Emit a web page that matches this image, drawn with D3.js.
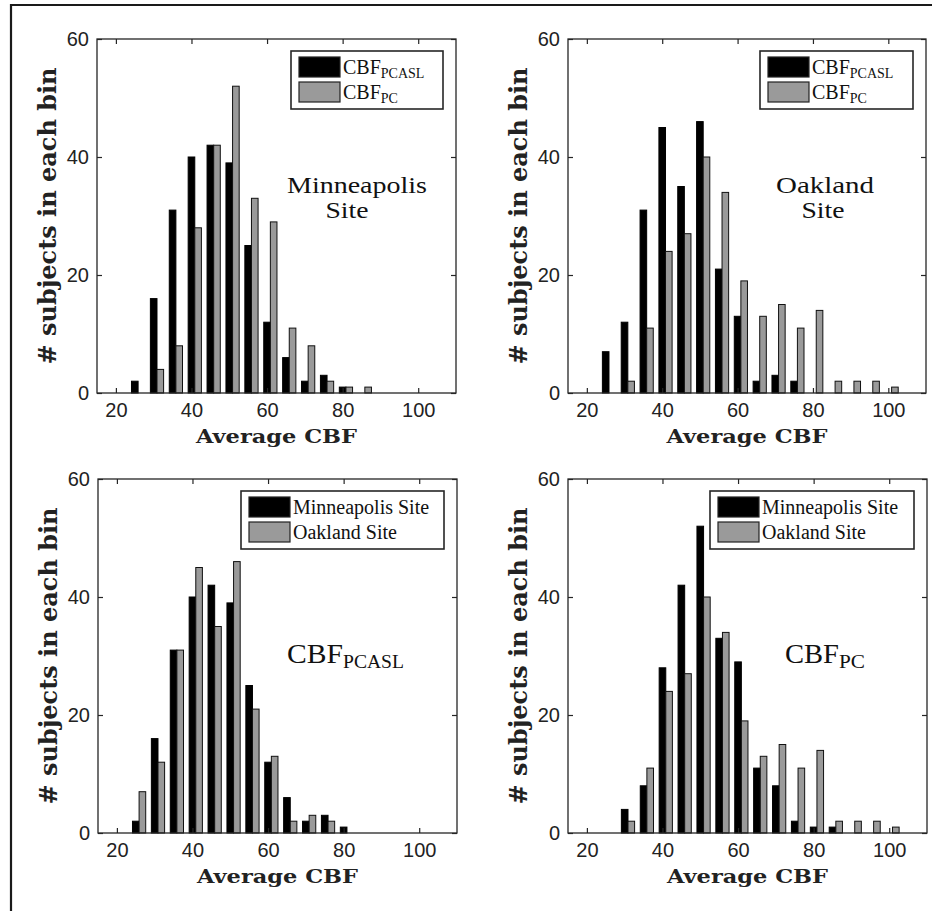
<!DOCTYPE html>
<html><head><meta charset="utf-8">
<script src="https://cdn.jsdelivr.net/npm/d3@7"></script>
<style>body{margin:0;background:#fff}svg{display:block}</style>
</head><body>
<script>
// ---- data ----
const bins = [25,30,35,40,45,50,55,60,65,70,75,80,85,90,95,100];
const mplsPCASL = [2,16,31,40,42,39,25,12,6,2,3,1,0,0,0,0];
const mplsPC    = [0,4,8,28,42,52,33,29,11,8,2,1,1,0,0,0];
const oakPCASL  = [7,12,31,45,35,46,21,13,2,3,2,0,0,0,0,0];
const oakPC     = [0,2,11,24,27,40,34,19,13,15,11,14,2,2,2,1];
const xTicks = [20,40,60,80,100];
const yTicks = [0,20,40,60];
const xLabel = "Average CBF";
const yLabel = "# subjects in each bin";
const legendMethods = [["CBF","PCASL"],["CBF","PC"]];
const legendSites = [["Minneapolis Site",""],["Oakland Site",""]];

const panels = [
  {x0:97, x1:456, y0:39, y1:393, black:mplsPCASL, gray:mplsPC, legend:legendMethods,
   legendLeft:291, notes:[{t:"Minneapolis",x:357,y:193,w:140},{t:"Site",x:347,y:218,w:43}]},
  {x0:568, x1:926, y0:39, y1:393, black:oakPCASL, gray:oakPC, legend:legendMethods,
   legendLeft:760, notes:[{t:"Oakland",x:825,y:193,w:98},{t:"Site",x:823,y:218,w:43}]},
  {x0:98, x1:457, y0:479, y1:833, black:mplsPCASL, gray:oakPCASL, legend:legendSites,
   legendLeft:241, sub:{main:"CBF",sub:"PCASL",x:287,y:663,wm:56,ws:61}},
  {x0:568, x1:927, y0:479, y1:833, black:mplsPC, gray:oakPC, legend:legendSites,
   legendLeft:710, sub:{main:"CBF",sub:"PC",x:785,y:663,wm:54,ws:26}}
];

const W=934,H=911;
const svg=d3.select("body").append("svg").attr("width",W).attr("height",H);
const SERIF="'Liberation Serif','Times New Roman',serif";
const BSERIF="'DejaVu Serif',serif";
const SANS="'Liberation Sans',Arial,Helvetica,sans-serif";

// outer frame
svg.append("path").attr("d","M11,911 L11,5 L932,5").attr("fill","none").attr("stroke","#1a1a1a").attr("stroke-width",2.2);

panels.forEach(p=>{
  const x=d3.scaleLinear().domain([15,110]).range([p.x0,p.x1]);
  const y=d3.scaleLinear().domain([0,60]).range([p.y1,p.y0]);
  const g=svg.append("g");
  const hw=0.875;
  // bars
  g.selectAll("rect.b").data(bins.map((b,i)=>({b,v:p.black[i]})).filter(d=>d.v>0)).join("rect")
    .attr("x",d=>x(d.b-hw)).attr("width",d=>x(d.b+hw)-x(d.b-hw))
    .attr("y",d=>y(d.v)).attr("height",d=>y(0)-y(d.v))
    .attr("fill","#000").attr("stroke","#000").attr("stroke-width",1);
  g.selectAll("rect.g").data(bins.map((b,i)=>({b,v:p.gray[i]})).filter(d=>d.v>0)).join("rect")
    .attr("x",d=>x(d.b+hw)).attr("width",d=>x(d.b+3*hw)-x(d.b+hw))
    .attr("y",d=>y(d.v)).attr("height",d=>y(0)-y(d.v))
    .attr("fill","#9a9a9a").attr("stroke","#111").attr("stroke-width",1);
  // axes with inward ticks
  const ax=d3.axisBottom(x).tickValues(xTicks).tickSize(-5).tickPadding(10);
  const gx=g.append("g").attr("transform",`translate(0,${p.y1})`).call(ax);
  const gxt=g.append("g").attr("transform",`translate(0,${p.y0})`).call(d3.axisTop(x).tickValues(xTicks).tickSize(-5).tickFormat(""));
  const ay=d3.axisLeft(y).tickValues(yTicks).tickSize(-5).tickPadding(8);
  const gy=g.append("g").attr("transform",`translate(${p.x0},0)`).call(ay);
  const gyr=g.append("g").attr("transform",`translate(${p.x1},0)`).call(d3.axisRight(y).tickValues(yTicks).tickSize(-5).tickFormat(""));
  [gx,gxt,gy,gyr].forEach(a=>{
    a.select(".domain").remove();
    a.selectAll(".tick line").attr("stroke","#262626").attr("stroke-width",1.2);
    a.selectAll("text").attr("font-family",SANS).attr("font-size",20).attr("fill","#222");
  });
  gx.selectAll("text").attr("dy","0.71em");
  // box
  g.append("rect").attr("x",p.x0).attr("y",p.y0).attr("width",p.x1-p.x0).attr("height",p.y1-p.y0)
    .attr("fill","none").attr("stroke","#262626").attr("stroke-width",1.3);
  // axis labels
  g.append("text").attr("x",(p.x0+p.x1)/2).attr("y",p.y1+50).attr("text-anchor","middle")
    .attr("font-family",BSERIF).attr("font-weight","bold").attr("font-size",19).attr("fill","#222")
    .attr("textLength",161).attr("lengthAdjust","spacingAndGlyphs").text(xLabel);
  g.append("text").attr("transform",`translate(${p.x0-41},${(p.y0+p.y1)/2}) rotate(-90)`).attr("text-anchor","middle")
    .attr("font-family",BSERIF).attr("font-weight","bold").attr("font-size",25).attr("fill","#222")
    .attr("textLength",297).attr("lengthAdjust","spacingAndGlyphs").text(yLabel);
  // legend
  const lx=p.legendLeft, lr=p.x1-13, ly=p.y0+12, lb=p.y0+70;
  g.append("rect").attr("x",lx).attr("y",ly).attr("width",lr-lx).attr("height",lb-ly)
    .attr("fill","#fff").attr("stroke","#262626").attr("stroke-width",1.6);
  const rows=[{fill:"#000",t:p.legend[0],yy:ly+6},{fill:"#9a9a9a",t:p.legend[1],yy:ly+31}];
  rows.forEach(r=>{
    g.append("rect").attr("x",lx+8).attr("y",r.yy).attr("width",41).attr("height",20)
      .attr("fill",r.fill).attr("stroke","#222").attr("stroke-width",1.2);
    const t=g.append("text").attr("x",lx+52).attr("y",r.yy+17).attr("font-family",SERIF)
      .attr("font-size",20).attr("fill","#111");
    t.append("tspan").text(r.t[0]);
    if(r.t[1]) t.append("tspan").attr("font-size",14).attr("dy",4).text(r.t[1]);
  });
  // annotations
  if(p.notes) p.notes.forEach(n=>{
    g.append("text").attr("x",n.x).attr("y",n.y).attr("text-anchor","middle")
      .attr("font-family",SERIF).attr("font-size",23).attr("fill","#111")
      .attr("textLength",n.w).attr("lengthAdjust","spacingAndGlyphs").text(n.t);
  });
  if(p.sub){
    const s=p.sub;
    g.append("text").attr("x",s.x).attr("y",s.y).attr("font-family",SERIF).attr("font-size",27).attr("fill","#111")
      .attr("textLength",s.wm).attr("lengthAdjust","spacingAndGlyphs").text(s.main);
    g.append("text").attr("x",s.x+s.wm).attr("y",s.y+5).attr("font-family",SERIF).attr("font-size",19).attr("fill","#111")
      .attr("textLength",s.ws).attr("lengthAdjust","spacingAndGlyphs").text(s.sub);
  }
});
</script>
</body></html>
